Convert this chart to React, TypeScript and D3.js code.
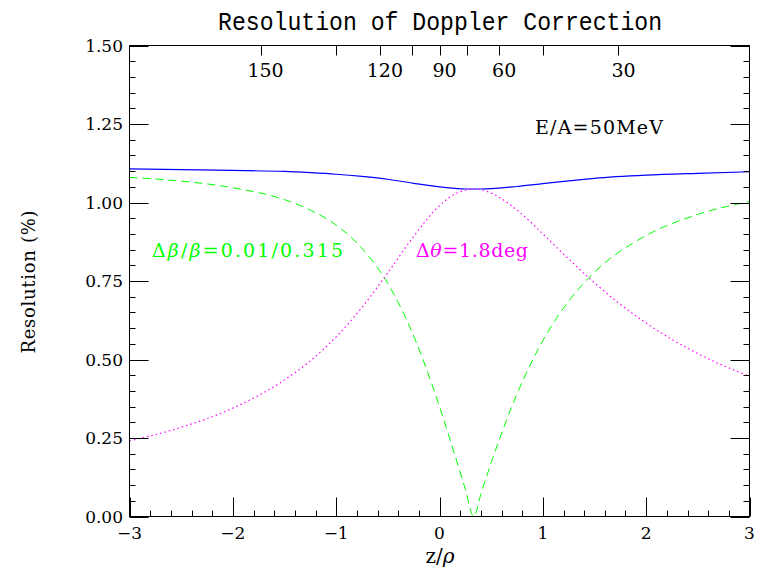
import React from "react";
import * as d3 from "d3";

// z/rho sample positions and the three resolution curves (%)
const zVals = [-3, -2.5, -2, -1.5, -1.25, -1, -0.75, -0.5, -0.25, 0, 0.15, 0.25, 0.332, 0.4, 0.5, 0.75, 1, 1.25, 1.5, 2, 2.5, 3];
const betaRes = [1.08, 1.068, 1.047, 1.009, 0.976, 0.928, 0.854, 0.742, 0.575, 0.35, 0.194, 0.087, 0, 0.071, 0.171, 0.39, 0.56, 0.686, 0.778, 0.895, 0.962, 1.003];
const thetaRes = [0.241, 0.284, 0.345, 0.435, 0.496, 0.572, 0.666, 0.776, 0.892, 0.99, 1.027, 1.039, 1.043, 1.041, 1.03, 0.976, 0.9, 0.82, 0.744, 0.616, 0.519, 0.446];
const totalRes = [1.107, 1.105, 1.102, 1.099, 1.095, 1.09, 1.083, 1.074, 1.061, 1.05, 1.045, 1.043, 1.043, 1.043, 1.044, 1.051, 1.06, 1.069, 1.077, 1.087, 1.093, 1.098];

const xTicks = [-3, -2, -1, 0, 1, 2, 3];
const yTicks = [0, 0.25, 0.5, 0.75, 1.0, 1.25, 1.5];
const angleMajor = [150, 120, 90, 60, 30];
const angleMinor = [135, 105, 75, 45];

const W = 757;
const H = 574;
const left = 129.5, right = 749.5, top = 45.5, bottom = 516.5;

export default function App() {
  const x = d3.scaleLinear().domain([-3, 3]).range([left, right]);
  const y = d3.scaleLinear().domain([0, 1.5]).range([bottom, top]);
  const cot = (deg: number) => 1 / Math.tan((deg * Math.PI) / 180);

  const line = (vals: number[]) =>
    d3
      .line<number>()
      .x((_, i) => x(zVals[i]))
      .y((d) => y(d))
      .curve(d3.curveMonotoneX)(vals) || "";

  const xMinor = d3.range(-3, 3.001, 0.2).map((v) => +v.toFixed(2));
  const yMinor = d3.range(0, 1.5001, 0.05).map((v) => +v.toFixed(2));
  const serif = "DejaVu Serif";

  return (
    <svg width={W} height={H} style={{ position: "absolute", left: 0, top: 0 }}>
      <rect width={W} height={H} fill="white" />
      <text x={440} y={30} fontFamily="Liberation Mono" fontSize={25} textLength={444}
        lengthAdjust="spacingAndGlyphs" textAnchor="middle">Resolution of Doppler Correction</text>

      {/* curves */}
      <path d={line(totalRes)} fill="none" stroke="#0000ff" strokeWidth={1.2} />
      <path d={line(betaRes)} fill="none" stroke="#00ff00" strokeWidth={1} strokeDasharray="8,5" />
      <path d={line(thetaRes)} fill="none" stroke="#ff00ff" strokeWidth={1.2} strokeDasharray="1.5,3" />

      {/* frame */}
      <rect x={left} y={top} width={right - left} height={bottom - top} fill="none" stroke="#000" strokeWidth={1} />

      {/* ticks */}
      <g stroke="#000" strokeWidth={1}>
        {xMinor.map((v) => {
          const major = Math.abs(v - Math.round(v)) < 1e-6;
          return <line key={"xb" + v} x1={Math.round(x(v)) + 0.5} x2={Math.round(x(v)) + 0.5} y1={bottom} y2={bottom - (major ? 19 : 6)} />;
        })}
        {yMinor.map((v) => {
          const major = Math.abs(v * 4 - Math.round(v * 4)) < 1e-6;
          const len = major ? 19 : 6;
          const yy = Math.round(y(v)) + 0.5;
          return (
            <g key={"y" + v}>
              <line x1={left} x2={left + len} y1={yy} y2={yy} />
              <line x1={right} x2={right - len} y1={yy} y2={yy} />
            </g>
          );
        })}
        {[...angleMajor, ...angleMinor].map((a) => {
          const xx = Math.round(x(cot(a))) + 0.5;
          return <line key={"a" + a} x1={xx} x2={xx} y1={top} y2={top + 10} />;
        })}
      </g>

      {/* tick labels */}
      <g fontFamily={serif} fontSize={17} fill="#000">
        {xTicks.map((v) => (
          <text key={"xl" + v} x={x(v)} y={539} textAnchor="middle">{v < 0 ? "\u2212" + Math.abs(v) : v}</text>
        ))}
        {yTicks.map((v) => (
          <text key={"yl" + v} x={123} y={y(v) + 6} textAnchor="end">{v.toFixed(2)}</text>
        ))}
      </g>
      <g fontFamily={serif} fontSize={19} fill="#000">
        {angleMajor.map((a) => (
          <text key={"al" + a} x={x(cot(a)) + 5} y={77} textAnchor="middle">{a}</text>
        ))}
      </g>

      {/* axis titles */}
      <text x={440} y={563} fontFamily={serif} fontSize={20} textAnchor="middle">
        z/<tspan fontStyle="italic">ρ</tspan>
      </text>
      <text transform="translate(35,282) rotate(-90)" fontFamily={serif} fontSize={18} textAnchor="middle"
        textLength={143} lengthAdjust="spacing">Resolution (%)</text>

      {/* annotations */}
      <text x={535} y={134} fontFamily={serif} fontSize={19} textLength={128} lengthAdjust="spacing">E/A=50MeV</text>
      <text x={152} y={257} fontFamily={serif} fontSize={19} fill="#00ff00" textLength={191} lengthAdjust="spacing">
        Δ<tspan fontStyle="italic">β</tspan>/<tspan fontStyle="italic">β</tspan>=0.01/0.315
      </text>
      <text x={416} y={257} fontFamily={serif} fontSize={19} fill="#ff00ff" textLength={112} lengthAdjust="spacing">
        Δ<tspan fontStyle="italic">θ</tspan>=1.8deg
      </text>
    </svg>
  );
}
